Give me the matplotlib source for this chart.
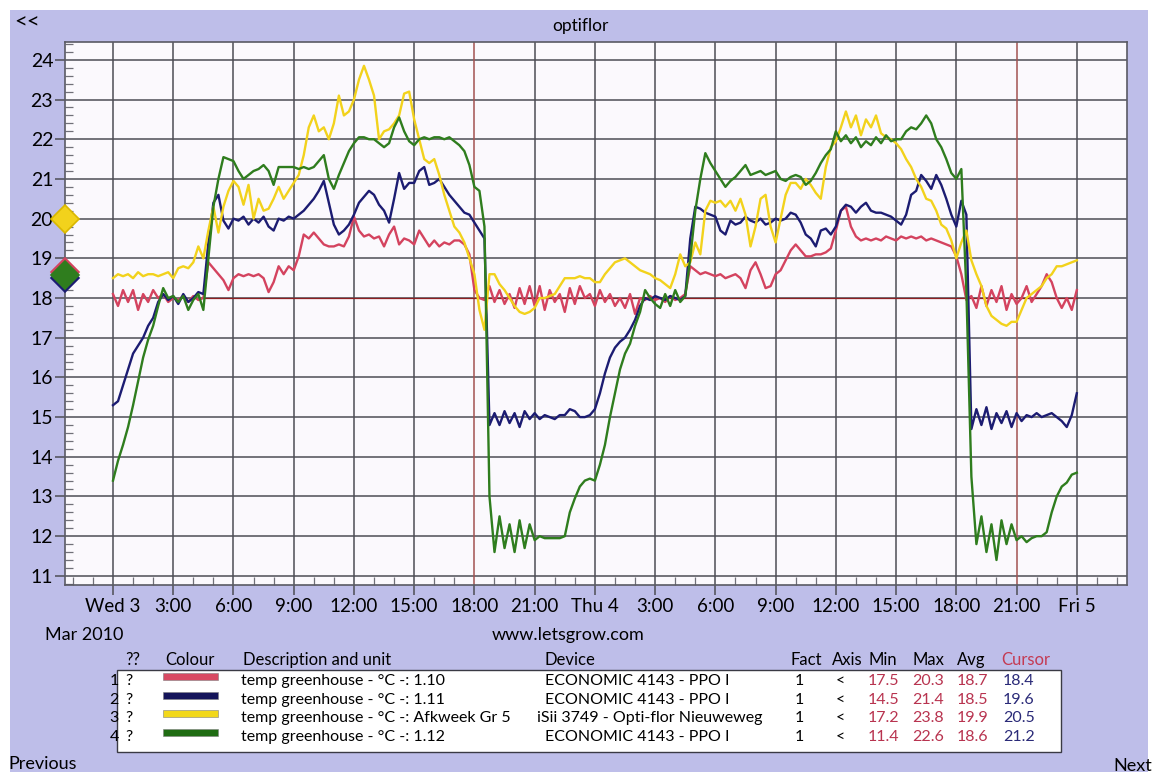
import numpy as np
import matplotlib
matplotlib.use("Agg")
import matplotlib.pyplot as plt
from matplotlib.patches import Rectangle
from matplotlib.ticker import MultipleLocator

plt.rcParams['font.family'] = ['Lato', 'DejaVu Sans']

# ---------------- data (15-minute samples, hours from Wed 3 00:00) ----------------
t_step = 0.25
red = [18.1, 17.8, 18.2, 17.9, 18.2, 17.7, 18.1, 17.9, 18.2, 18.0, 18.1, 17.9, 18.0,
       17.95, 18.05, 17.9, 18.05, 17.95, 18.0, 18.9, 18.75, 18.6, 18.45, 18.2, 18.5,
       18.6, 18.55, 18.6, 18.55, 18.6, 18.5, 18.15, 18.4, 18.8, 18.6, 18.8, 18.7,
       19.05, 19.6, 19.5, 19.65, 19.5, 19.35, 19.3, 19.3, 19.35, 19.3, 19.55, 20.05,
       19.7, 19.55, 19.6, 19.5, 19.55, 19.3, 19.6, 19.8, 19.35, 19.5, 19.45, 19.35,
       19.7, 19.5, 19.3, 19.45, 19.3, 19.4, 19.35, 19.45, 19.45, 19.35, 19.1, 18.2,
       18.0, 17.95, 18.3, 17.9, 18.2, 17.85, 18.1, 17.75, 18.25, 17.85, 18.3, 17.8,
       18.3, 17.7, 18.2, 17.9, 18.1, 17.65, 18.25, 17.85, 18.3, 18.0, 18.1, 17.8,
       18.2, 17.9, 18.1, 17.8, 18.0, 17.75, 18.1, 17.6, 18.0, 17.95, 18.05, 17.95,
       18.0, 17.9, 18.05, 17.95, 18.0, 18.1, 18.8, 18.7, 18.6, 18.65, 18.6, 18.55,
       18.6, 18.5, 18.55, 18.6, 18.5, 18.25, 18.7, 18.9, 18.6, 18.25, 18.3, 18.6,
       18.7, 18.95, 19.2, 19.35, 19.2, 19.05, 19.05, 19.1, 19.1, 19.15, 19.25, 19.7,
       20.2, 20.3, 19.8, 19.55, 19.45, 19.5, 19.45, 19.5, 19.45, 19.55, 19.5, 19.45,
       19.55, 19.5, 19.55, 19.5, 19.55, 19.45, 19.5, 19.45, 19.4, 19.35, 19.3, 19.05,
       18.6, 17.95, 18.05, 17.75, 18.3, 17.8, 18.2, 17.9, 18.3, 17.7, 18.1, 17.85,
       18.0, 18.3, 17.9, 18.1, 18.3, 18.6, 18.4, 18.0, 17.75, 18.0, 17.7, 18.2]

blue = [15.3, 15.4, 15.8, 16.2, 16.6, 16.8, 17.0, 17.3, 17.5, 17.9, 18.1, 17.95, 18.05,
        17.85, 18.1, 17.9, 18.0, 18.15, 18.1, 19.4, 20.4, 20.6, 19.95, 19.75, 20.0,
        19.95, 20.05, 19.85, 20.0, 19.9, 20.05, 19.8, 19.7, 20.0, 19.95, 20.05, 20.0,
        20.1, 20.2, 20.35, 20.5, 20.7, 20.95, 20.4, 19.85, 19.6, 19.7, 19.85, 20.1,
        20.4, 20.55, 20.7, 20.6, 20.35, 20.2, 19.9, 20.5, 21.15, 20.75, 20.9, 20.9,
        21.2, 21.3, 20.85, 20.9, 21.0, 20.8, 20.6, 20.45, 20.3, 20.15, 20.1, 19.9,
        19.7, 19.5, 14.8, 15.1, 14.8, 15.15, 14.85, 15.1, 14.75, 15.15, 14.95, 15.1,
        14.95, 15.05, 15.0, 14.95, 15.05, 15.05, 15.2, 15.15, 15.0, 15.0, 15.05, 15.2,
        15.6, 16.1, 16.5, 16.75, 16.9, 17.0, 17.2, 17.45, 17.8, 18.0, 17.95, 18.05,
        18.0, 17.95, 18.05, 18.0, 17.95, 18.05, 19.5, 20.3, 20.25, 20.15, 20.1, 20.05,
        19.7, 19.6, 19.95, 19.85, 19.9, 20.05, 19.95, 19.9, 20.0, 19.85, 19.9, 20.0,
        19.95, 20.0, 20.15, 20.1, 19.9, 19.6, 19.5, 19.3, 19.7, 19.75, 19.6, 19.8,
        20.2, 20.35, 20.3, 20.15, 20.3, 20.4, 20.2, 20.15, 20.15, 20.1, 20.05, 19.95,
        19.85, 20.1, 20.6, 20.7, 21.1, 20.95, 20.75, 21.1, 20.85, 20.5, 20.1, 19.8,
        20.45, 20.1, 14.7, 15.2, 14.8, 15.25, 14.7, 15.1, 14.85, 15.15, 14.75, 15.1,
        14.9, 15.05, 15.0, 15.1, 15.0, 15.05, 15.1, 15.0, 14.9, 14.75, 15.05, 15.6]

yellow = [18.5, 18.6, 18.55, 18.6, 18.5, 18.65, 18.55, 18.6, 18.6, 18.55, 18.6, 18.65, 18.5,
          18.75, 18.8, 18.75, 18.9, 19.3, 19.0, 19.7, 20.3, 19.65, 20.3, 20.7, 20.95,
          20.8, 20.35, 20.85, 20.0, 20.5, 20.2, 20.25, 20.5, 20.8, 20.5, 20.7, 20.9,
          21.1, 21.6, 22.3, 22.6, 22.2, 22.3, 22.0, 22.4, 23.1, 22.6, 22.7, 23.0,
          23.5, 23.85, 23.5, 23.1, 22.0, 22.2, 22.25, 22.4, 22.6, 23.15, 23.2, 22.5,
          22.0, 21.5, 21.4, 21.5, 21.1, 20.6, 20.2, 19.8, 19.65, 19.4, 19.0, 18.6,
          17.7, 17.2, 18.6, 18.6, 18.35, 18.2, 18.0, 17.8, 17.65, 17.6, 17.65, 17.75,
          18.0, 18.0, 18.05, 18.1, 18.3, 18.5, 18.5, 18.5, 18.55, 18.5, 18.5, 18.4,
          18.4, 18.6, 18.75, 18.9, 18.95, 19.0, 18.9, 18.8, 18.7, 18.65, 18.6, 18.5,
          18.45, 18.35, 18.25, 18.6, 19.1, 18.8, 18.9, 19.4, 19.1, 20.2, 20.45, 20.4,
          20.45, 20.3, 20.45, 20.2, 20.5, 20.1, 19.3, 19.8, 20.5, 20.6, 19.8, 19.4,
          20.0, 20.6, 20.9, 20.9, 20.75, 21.0, 20.85, 20.65, 20.5, 21.3, 21.8, 21.95,
          22.3, 22.7, 22.3, 22.6, 22.1, 22.5, 22.3, 22.6, 22.15, 22.05, 22.0, 21.9,
          21.75, 21.5, 21.3, 21.0, 20.8, 20.5, 20.45, 20.2, 19.85, 19.75, 19.45, 19.0,
          19.4, 19.7, 18.95, 18.6, 18.3, 17.8, 17.55, 17.45, 17.35, 17.3, 17.4, 17.4,
          17.7, 18.0, 18.1, 18.2, 18.3, 18.5, 18.6, 18.8, 18.8, 18.85, 18.9, 18.95]

green = [13.4, 13.9, 14.3, 14.75, 15.3, 15.9, 16.5, 16.95, 17.3, 17.8, 18.25, 18.0, 18.05,
         17.9, 18.05, 17.7, 17.95, 18.1, 17.7, 19.0, 20.3, 21.0, 21.55, 21.5, 21.45,
         21.2, 21.0, 21.1, 21.2, 21.25, 21.35, 21.2, 20.85, 21.3, 21.3, 21.3, 21.3,
         21.25, 21.3, 21.25, 21.3, 21.45, 21.6, 21.0, 20.75, 21.1, 21.4, 21.7, 21.9,
         22.05, 22.05, 22.0, 22.0, 21.9, 21.8, 21.9, 22.3, 22.55, 22.2, 21.95, 21.85,
         22.0, 22.05, 22.0, 22.05, 22.05, 22.0, 22.05, 21.95, 21.85, 21.7, 21.35, 20.8,
         20.7, 19.8, 13.0, 11.6, 12.5, 11.7, 12.3, 11.6, 12.4, 11.7, 12.3, 11.9,
         12.0, 11.95, 11.95, 11.95, 11.95, 12.0, 12.6, 12.95, 13.25, 13.4, 13.45, 13.4,
         13.8, 14.3, 15.0, 15.6, 16.2, 16.6, 16.85, 17.3, 17.65, 18.2, 18.0, 17.85,
         17.75, 18.1, 17.8, 18.2, 17.9, 18.05, 19.0, 20.2, 21.0, 21.65, 21.4, 21.2,
         21.0, 20.8, 20.95, 21.05, 21.2, 21.35, 21.1, 21.15, 21.2, 21.1, 21.15, 21.2,
         21.0, 20.95, 21.05, 21.1, 21.05, 20.85, 20.95, 21.15, 21.4, 21.6, 21.75, 22.2,
         21.95, 22.1, 21.9, 22.05, 21.8, 21.95, 21.85, 22.05, 21.9, 22.1, 21.95, 22.0,
         22.0, 22.2, 22.3, 22.25, 22.4, 22.6, 22.4, 22.0, 21.8, 21.5, 21.15, 21.0,
         21.25, 18.2, 13.5, 11.8, 12.5, 11.6, 12.3, 11.4, 12.4, 11.8, 12.3, 11.9,
         12.0, 11.85, 11.95, 12.0, 12.0, 12.1, 12.6, 13.0, 13.25, 13.35, 13.55, 13.6]

x_tick_hours = list(range(0, 49, 3))
x_tick_labels = ["Wed 3", "3:00", "6:00", "9:00", "12:00", "15:00", "18:00", "21:00",
                 "Thu 4", "3:00", "6:00", "9:00", "12:00", "15:00", "18:00", "21:00", "Fri 5"]
y_ticks = list(range(11, 25))
marked_hours = [18, 45]          # red day-boundary grid lines
setpoint = 18.0
setpoint_start = 4.6

series_colors = ['#d4435f', '#1c1c72', '#f2d21c', '#2f7d1e']
legend_colors = ['#d84a63', '#14145a', '#f2d81a', '#1f6c12']
descriptions = ["temp greenhouse - °C -: 1.10", "temp greenhouse - °C -: 1.11",
                "temp greenhouse - °C -: Afkweek Gr 5", "temp greenhouse - °C -: 1.12"]
devices = ["ECONOMIC 4143 - PPO I", "ECONOMIC 4143 - PPO I",
           "iSii 3749 - Opti-flor Nieuweweg", "ECONOMIC 4143 - PPO I"]
facts = ["1", "1", "1", "1"]
axes_col = ["<", "<", "<", "<"]
mins = ["17.5", "14.5", "17.2", "11.4"]
maxs = ["20.3", "21.4", "23.8", "22.6"]
avgs = ["18.7", "18.5", "19.9", "18.6"]
cursors = ["18.4", "19.6", "20.5", "21.2"]
cursor_marks = [(20.0, '#f2d21c', '#d9b800'), (18.66, '#d4435f', '#d4435f'),
                (18.50, '#1c1c72', '#1c1c72'), (18.58, '#2f7d1e', '#2f7d1e')]

# ---------------- figure ----------------
W, H = 1152, 772
fig = plt.figure(figsize=(W / 100, H / 100), dpi=100)
fig.patch.set_facecolor('white')


def fx(x):
    return x / W


def fy(y):
    return 1 - y / H


lav = '#bebee9'
fig.patches.append(Rectangle((fx(10), 0), fx(1138), fy(10), transform=fig.transFigure,
                             facecolor=lav, edgecolor='none', zorder=-5))

ax = fig.add_axes([fx(65), fy(585), fx(1127 - 65), (585 - 42) / H])
ax.set_zorder(2)
ax.set_facecolor('#fbf9fd')

hours = np.arange(len(red)) * t_step
for vals, col in zip([red, blue, yellow, green], series_colors):
    ax.plot(hours, vals, color=col, lw=1.7, zorder=4, solid_joinstyle='round')

ax.set_xlim(-2.39, 50.5)
ax.set_ylim(10.77, 24.45)

grid_col = '#4d4d55'
for yv in y_ticks:
    ax.axhline(yv, color=grid_col, lw=1.1, zorder=1)
for xv in x_tick_hours:
    c = '#a35252' if xv in marked_hours else grid_col
    ax.axvline(xv, color=c, lw=1.1, zorder=1)
ax.plot([setpoint_start, x_tick_hours[-1]], [setpoint, setpoint], color='#8e1f22', lw=0.9, zorder=2)

ax.set_xticks(x_tick_hours)
ax.set_xticklabels(x_tick_labels, fontsize=13.5)
ax.set_yticks(y_ticks)
ax.set_yticklabels([str(v) for v in y_ticks], fontsize=14)
ax.xaxis.set_minor_locator(MultipleLocator(1))
ax.yaxis.set_minor_locator(MultipleLocator(0.2))
ax.tick_params(axis='both', which='major', direction='out', length=7, width=1.1,
               color=grid_col, pad=2.5)
ax.tick_params(axis='y', which='major', pad=1.5)
ax.tick_params(axis='both', which='minor', direction='in', length=5.5, width=0.9,
               color='#707078')
for s in ax.spines.values():
    s.set_color('#5a5a64')
    s.set_linewidth(1.2)

# cursor diamonds on the left axis
x0 = ax.get_xlim()[0]
for yv, fc, ec in cursor_marks:
    ax.plot([x0], [yv], marker='D', ms=14.5, mfc=fc, mec=ec, mew=1.2,
            clip_on=False, zorder=6)

# ---------------- texts ----------------
fig.text(fx(14), fy(23), "<<", fontsize=16, ha='left', va='center')
fig.text(fx(580), fy(26), "optiflor", fontsize=12.5, ha='center', va='center')
fig.text(fx(45), fy(635), "Mar 2010", fontsize=13, ha='left', va='center')
fig.text(fx(568), fy(635), "www.letsgrow.com", fontsize=13, ha='center', va='center')
fig.text(fx(8), fy(764), "Previous", fontsize=13, ha='left', va='center')
fig.text(fx(1113), fy(766), "Next", fontsize=13, ha='left', va='center')

# legend table
hdr_y = 660
hdr = [(125, "??", 'black'), (165, "Colour", 'black'), (243, "Description and unit", 'black'),
       (545, "Device", 'black'), (791, "Fact", 'black'), (832, "Axis", 'black'),
       (868, "Min", 'black'), (912, "Max", 'black'), (957, "Avg", 'black'),
       (1001, "Cursor", '#c43a52')]
for xh, txt, c in hdr:
    fig.text(fx(xh), fy(hdr_y), txt, fontsize=12, ha='left', va='center', color=c)

fig.patches.append(Rectangle((fx(117), fy(752)), fx(1061 - 117), (752 - 670) / H,
                             transform=fig.transFigure, facecolor='white',
                             edgecolor='#3a3a44', lw=1.0, zorder=1))
row_y = [681, 700, 718, 737]
val_red = '#b8334f'
val_blue = '#2a2a78'
for i in range(4):
    y = row_y[i]
    fig.text(fx(119), fy(y), str(i + 1), fontsize=11.5, ha='right', va='center')
    fig.text(fx(125), fy(y), "?", fontsize=11.5, ha='left', va='center')
    fig.patches.append(Rectangle((fx(163), fy(y - 1)), fx(55), 7 / H,
                                 transform=fig.transFigure, facecolor=legend_colors[i],
                                 edgecolor='#808080', lw=0.4, zorder=2))
    fig.text(fx(241), fy(y), descriptions[i], fontsize=11.5, ha='left', va='center')
    fig.text(fx(537 if devices[i].startswith('iSii') else 545), fy(y), devices[i],
             fontsize=11.5, ha='left', va='center')
    fig.text(fx(795), fy(y), facts[i], fontsize=11.5, ha='left', va='center')
    fig.text(fx(836), fy(y), axes_col[i], fontsize=11.5, ha='left', va='center')
    fig.text(fx(868), fy(y), mins[i], fontsize=11.5, ha='left', va='center', color=val_red)
    fig.text(fx(912), fy(y), maxs[i], fontsize=11.5, ha='left', va='center', color=val_red)
    fig.text(fx(957), fy(y), avgs[i], fontsize=11.5, ha='left', va='center', color=val_red)
    fig.text(fx(1003), fy(y), cursors[i], fontsize=11.5, ha='left', va='center', color=val_blue)

fig.savefig("out.png", dpi=100, facecolor=fig.get_facecolor())
